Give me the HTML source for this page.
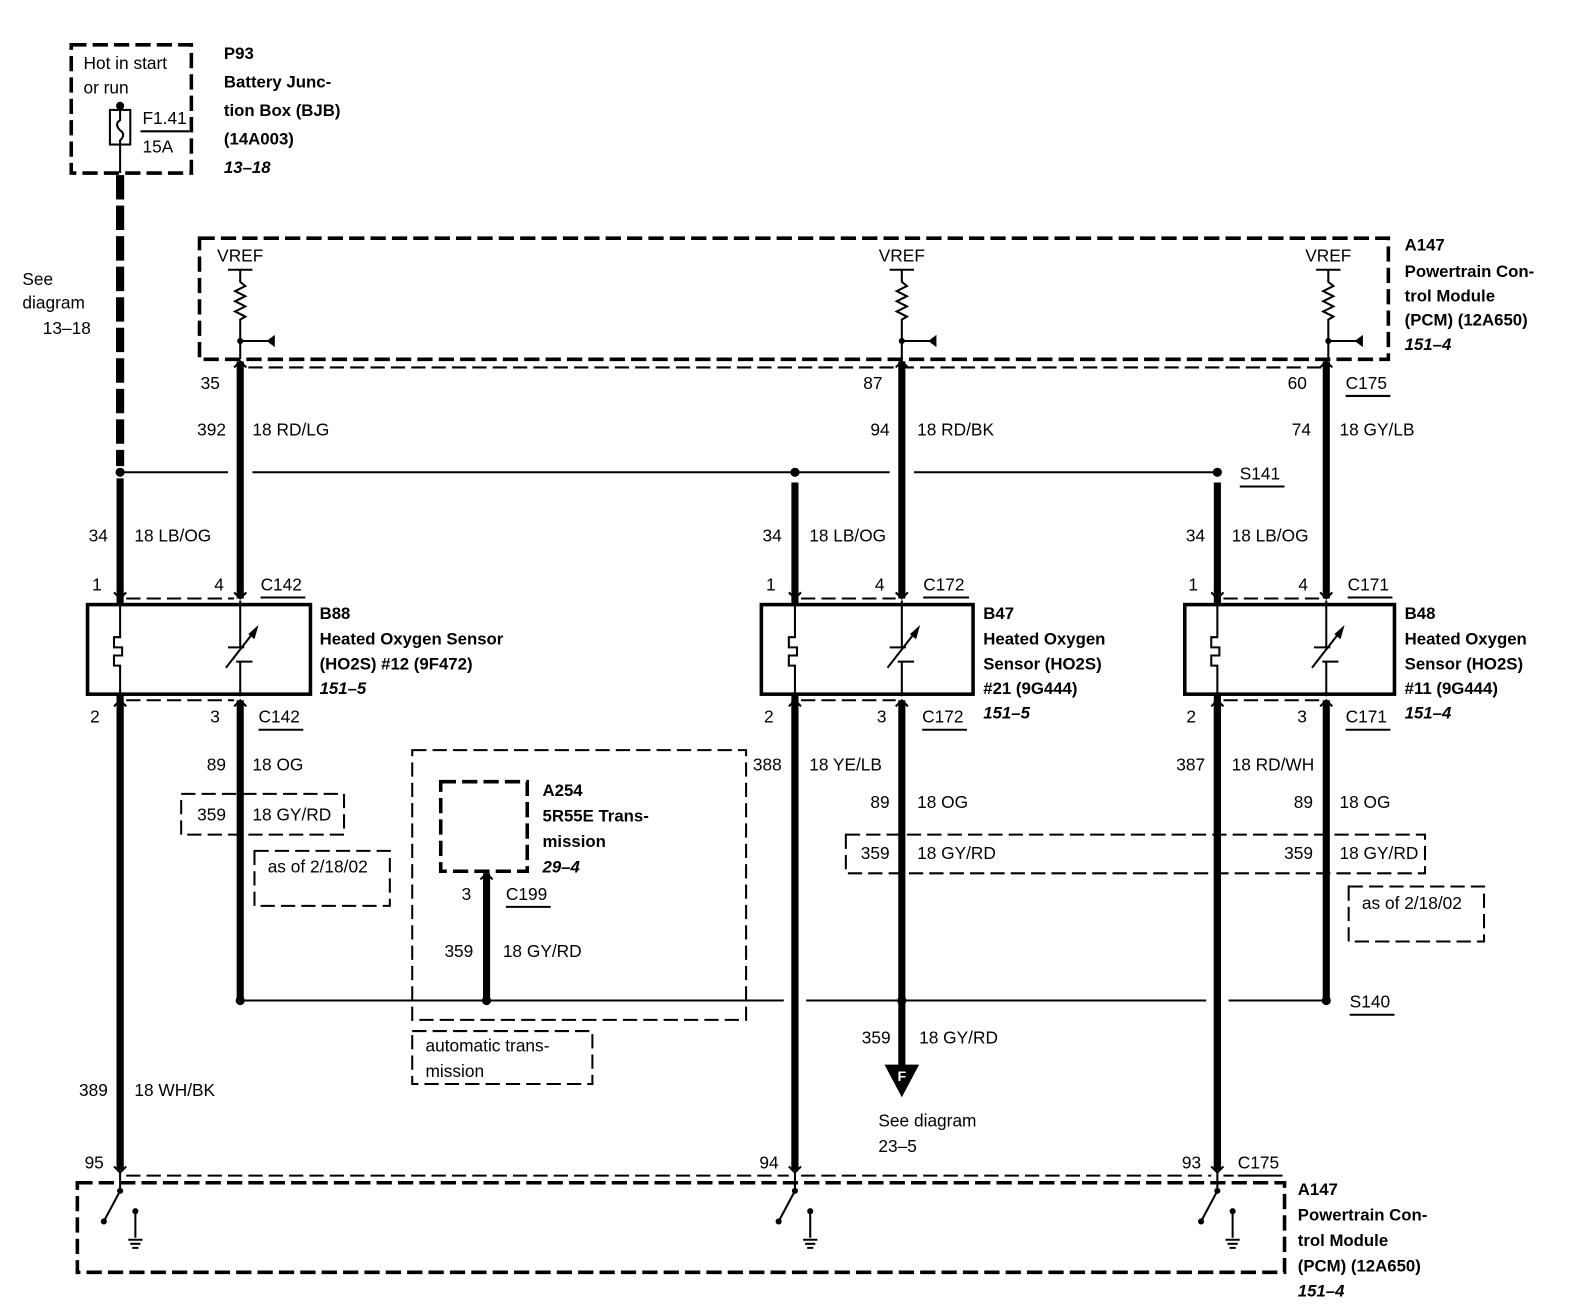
<!DOCTYPE html>
<html><head><meta charset="utf-8"><style>
html,body{margin:0;padding:0;background:#fff;}
svg{display:block;}
text{font-family:"Liberation Sans",Arial,sans-serif;font-size:17px;fill:#000;}
.b{font-weight:bold;font-size:16.5px;}
.i{font-weight:bold;font-style:italic;font-size:16.5px;}
.e{text-anchor:end;}
.w{stroke:#000;stroke-width:7;fill:none;}
.t{stroke:#000;stroke-width:2;fill:none;}
.d{stroke:#000;stroke-width:3.5;fill:none;stroke-dasharray:15 6;}
.dt{stroke:#000;stroke-width:2;fill:none;stroke-dasharray:14 6;}
</style></head><body>
<svg width="1596" height="1312" viewBox="0 0 1568 1289" preserveAspectRatio="none" xmlns="http://www.w3.org/2000/svg">
<defs>
<g id="vref">
<text x="0" y="-96" text-anchor="middle">VREF</text>
<path class="t" d="M-12,-88 H12 M0,-88 V-76 l5,4 -10,5 10,5 -10,5 10,5 -10,5 10,5 -5,3 V0"/>
<circle cx="0" cy="-18" r="3"/>
<path class="t" d="M0,-18 H28"/>
<path d="M26,-18 L34,-24 V-12 Z"/>
</g>
<g id="sens">
<path class="t" d="M0,0 V36 H-6 V46 H2 V54 H-6 V64 H0 V94"/>
</g>
<g id="var">
<path class="t" d="M0,0 V46 M-12,46 H4 M0,60 V94 M-4,60 H12 M-14,66 L14,30"/>
<path d="M18,24 L8,33 L14,38 Z"/>
</g>
<g id="sw">
<path class="t" d="M0,0 V18 L-16,48"/>
<circle cx="0" cy="18" r="3"/><circle cx="-16" cy="48" r="3"/>
<path class="t" d="M15,38 V64 M8,66 H22 M10,70 H20 M12,74 H18"/>
<circle cx="15" cy="38" r="3"/>
</g>
<path id="fu" class="t" d="M-6,-6 L0,0 L6,-6"/>
<path id="fd" class="t" d="M-6,6 L0,0 L6,6"/>
</defs>

<rect x="70" y="44" width="118" height="126" class="d"/>
<text x="82" y="68">Hot in start</text>
<text x="82" y="92">or run</text>
<circle cx="118" cy="104" r="4"/>
<rect x="108" y="108" width="20" height="34" class="t"/>
<path class="t" d="M118,104 V118 q-6,4 0,10 q6,4 0,10 V170"/>
<text x="140" y="122">F1.41</text>
<path class="t" d="M138,129 H186"/>
<text x="140" y="150">15A</text>
<text x="220" y="58" class="b">P93</text>
<text x="220" y="86" class="b">Battery Junc-</text>
<text x="220" y="114" class="b">tion Box (BJB)</text>
<text x="220" y="142" class="b">(14A003)</text>
<text x="220" y="170" class="i">13–18</text>
<path d="M118,172 V458" stroke="#000" stroke-width="8" stroke-dasharray="24 6" fill="none"/>
<text x="22" y="280">See</text>
<text x="22" y="303">diagram</text>
<text x="42" y="328">13–18</text>

<rect x="196" y="234" width="1168" height="119" class="d"/>
<path class="dt" d="M244,361 H1298"/>
<use href="#vref" x="236" y="353"/>
<use href="#vref" x="886" y="353"/>
<use href="#vref" x="1305" y="353"/>
<text x="1380" y="246" class="b">A147</text>
<text x="1380" y="272" class="b">Powertrain Con-</text>
<text x="1380" y="296" class="b">trol Module</text>
<text x="1380" y="320" class="b">(PCM) (12A650)</text>
<text x="1380" y="344" class="i">151–4</text>

<path class="w" d="M236,355 V588 M886,355 V588 M1303,355 V588"/>
<use href="#fd" x="236" y="355"/><use href="#fd" x="886" y="355"/><use href="#fd" x="1303" y="355"/>
<text x="216" y="382" class="e">35</text>
<text x="222" y="428" class="e">392</text><text x="248" y="428">18 RD/LG</text>
<text x="867" y="382" class="e">87</text>
<text x="874" y="428" class="e">94</text><text x="901" y="428">18 RD/BK</text>
<text x="1284" y="382" class="e">60</text>
<text x="1322" y="382">C175</text><path class="t" d="M1322,389 H1366" stroke-width="1.5"/>
<text x="1288" y="428" class="e">74</text><text x="1316" y="428">18 GY/LB</text>

<path class="t" d="M118,464 H224 M248,464 H874 M898,464 H1196"/>
<circle cx="118" cy="464" r="4.5"/><circle cx="781" cy="464" r="4.5"/><circle cx="1196" cy="464" r="4.5"/>
<text x="1218" y="471">S141</text><path class="t" d="M1218,478 H1262" stroke-width="1.5"/>
<path class="w" d="M118,470 V1150 M781,474 V1150 M1196,474 V1150"/>
<text x="106" y="532" class="e">34</text><text x="132" y="532">18 LB/OG</text>
<text x="768" y="532" class="e">34</text><text x="795" y="532">18 LB/OG</text>
<text x="1184" y="532" class="e">34</text><text x="1210" y="532">18 LB/OG</text>

<path class="dt" d="M124,588 H230 M787,588 H880 M1202,588 H1297"/>
<text x="100" y="580" class="e">1</text><text x="220" y="580" class="e">4</text>
<text x="256" y="580">C142</text><path class="t" d="M256,587 H300" stroke-width="1.5"/>
<text x="762" y="580" class="e">1</text><text x="869" y="580" class="e">4</text>
<text x="907" y="580">C172</text><path class="t" d="M907,587 H952" stroke-width="1.5"/>
<text x="1177" y="580" class="e">1</text><text x="1285" y="580" class="e">4</text>
<text x="1324" y="580">C171</text><path class="t" d="M1324,587 H1368" stroke-width="1.5"/>
<use href="#fu" x="118" y="588"/><use href="#fu" x="236" y="588"/><use href="#fu" x="781" y="588"/><use href="#fu" x="886" y="588"/><use href="#fu" x="1196" y="588"/><use href="#fu" x="1303" y="588"/>

<rect x="86" y="594" width="219" height="88" stroke="#000" stroke-width="3.5" fill="#fff"/>
<rect x="748" y="594" width="208" height="88" stroke="#000" stroke-width="3.5" fill="#fff"/>
<rect x="1164" y="594" width="206" height="88" stroke="#000" stroke-width="3.5" fill="#fff"/>
<use href="#sens" x="118" y="590"/><use href="#var" x="236" y="590"/>
<use href="#sens" x="781" y="590"/><use href="#var" x="886" y="590"/>
<use href="#sens" x="1196" y="590"/><use href="#var" x="1303" y="590"/>
<text x="314" y="608" class="b">B88</text>
<text x="314" y="633" class="b">Heated Oxygen Sensor</text>
<text x="314" y="658" class="b">(HO2S) #12 (9F472)</text>
<text x="314" y="682" class="i">151–5</text>
<text x="966" y="608" class="b">B47</text>
<text x="966" y="633" class="b">Heated Oxygen</text>
<text x="966" y="658" class="b">Sensor (HO2S)</text>
<text x="966" y="682" class="b">#21 (9G444)</text>
<text x="966" y="706" class="i">151–5</text>
<text x="1380" y="608" class="b">B48</text>
<text x="1380" y="633" class="b">Heated Oxygen</text>
<text x="1380" y="658" class="b">Sensor (HO2S)</text>
<text x="1380" y="682" class="b">#11 (9G444)</text>
<text x="1380" y="706" class="i">151–4</text>

<path class="dt" d="M124,688 H230 M787,688 H880 M1202,688 H1297"/>
<use href="#fd" x="118" y="688"/><use href="#fd" x="236" y="688"/><use href="#fd" x="781" y="688"/><use href="#fd" x="886" y="688"/><use href="#fd" x="1196" y="688"/><use href="#fd" x="1303" y="688"/>
<text x="98" y="710" class="e">2</text><text x="216" y="710" class="e">3</text>
<text x="254" y="710">C142</text><path class="t" d="M254,717 H298" stroke-width="1.5"/>
<text x="760" y="710" class="e">2</text><text x="871" y="710" class="e">3</text>
<text x="906" y="710">C172</text><path class="t" d="M906,717 H950" stroke-width="1.5"/>
<text x="1175" y="710" class="e">2</text><text x="1284" y="710" class="e">3</text>
<text x="1322" y="710">C171</text><path class="t" d="M1322,717 H1366" stroke-width="1.5"/>

<path class="w" d="M118,688 V1150 M236,688 V983 M781,688 V1150 M886,688 V1048 M1196,688 V1150 M1303,688 V983"/>

<text x="222" y="757" class="e">89</text><text x="248" y="757">18 OG</text>
<rect x="178" y="780" width="160" height="40" class="dt"/>
<text x="222" y="806" class="e">359</text><text x="248" y="806">18 GY/RD</text>
<rect x="250" y="836" width="133" height="54" class="dt"/>
<text x="263" y="857">as of 2/18/02</text>

<text x="768" y="757" class="e">388</text><text x="795" y="757">18 YE/LB</text>
<text x="874" y="794" class="e">89</text><text x="901" y="794">18 OG</text>
<rect x="831" y="820" width="569" height="38" class="dt"/>
<text x="874" y="844" class="e">359</text><text x="901" y="844">18 GY/RD</text>
<text x="1184" y="757" class="e">387</text><text x="1210" y="757">18 RD/WH</text>
<text x="1290" y="794" class="e">89</text><text x="1316" y="794">18 OG</text>
<text x="1290" y="844" class="e">359</text><text x="1316" y="844">18 GY/RD</text>
<rect x="1325" y="871" width="133" height="54" class="dt"/>
<text x="1338" y="893">as of 2/18/02</text>

<rect x="405" y="737" width="328" height="265" class="dt"/>
<rect x="433" y="768" width="85" height="88" class="d"/>
<text x="533" y="782" class="b">A254</text>
<text x="533" y="807" class="b">5R55E Trans-</text>
<text x="533" y="832" class="b">mission</text>
<text x="533" y="857" class="i">29–4</text>
<path class="w" d="M478,858 V983"/>
<use href="#fd" x="478" y="858"/>
<text x="463" y="884" class="e">3</text>
<text x="497" y="884">C199</text><path class="t" d="M497,891 H541" stroke-width="1.5"/>
<text x="465" y="940" class="e">359</text><text x="494" y="940">18 GY/RD</text>
<rect x="405" y="1013" width="177" height="52" class="dt"/>
<text x="418" y="1033">automatic trans-</text>
<text x="418" y="1058">mission</text>

<path class="t" d="M236,983 H770 M792,983 H1185 M1207,983 H1303"/>
<circle cx="236" cy="983" r="4.5"/><circle cx="478" cy="983" r="4.5"/><circle cx="886" cy="983" r="4.5"/><circle cx="1303" cy="983" r="4.5"/>
<text x="1326" y="990">S140</text><path class="t" d="M1326,997 H1370" stroke-width="1.5"/>

<path d="M869,1046 H903 L886,1078 Z"/>
<text x="886" y="1062" text-anchor="middle" class="b" style="fill:#fff;font-size:14px">F</text>
<text x="875" y="1025" class="e">359</text><text x="903" y="1025">18 GY/RD</text>
<text x="863" y="1107">See diagram</text>
<text x="863" y="1132">23–5</text>
<text x="106" y="1077" class="e">389</text><text x="132" y="1077">18 WH/BK</text>

<text x="102" y="1148" class="e">95</text>
<text x="765" y="1148" class="e">94</text>
<text x="1180" y="1148" class="e">93</text>
<text x="1216" y="1148">C175</text><path class="t" d="M1216,1155 H1260" stroke-width="1.5"/>
<path class="dt" d="M124,1155 H775 M787,1155 H1190 M1202,1155 H1212"/>
<use href="#fu" x="118" y="1152"/><use href="#fu" x="781" y="1152"/><use href="#fu" x="1196" y="1152"/>
<rect x="76" y="1162" width="1186" height="88" class="d"/>
<use href="#sw" x="118" y="1152"/>
<use href="#sw" x="781" y="1152"/>
<use href="#sw" x="1196" y="1152"/>
<text x="1275" y="1174" class="b">A147</text>
<text x="1275" y="1199" class="b">Powertrain Con-</text>
<text x="1275" y="1224" class="b">trol Module</text>
<text x="1275" y="1249" class="b">(PCM) (12A650)</text>
<text x="1275" y="1274" class="i">151–4</text>
</svg>
</body></html>
